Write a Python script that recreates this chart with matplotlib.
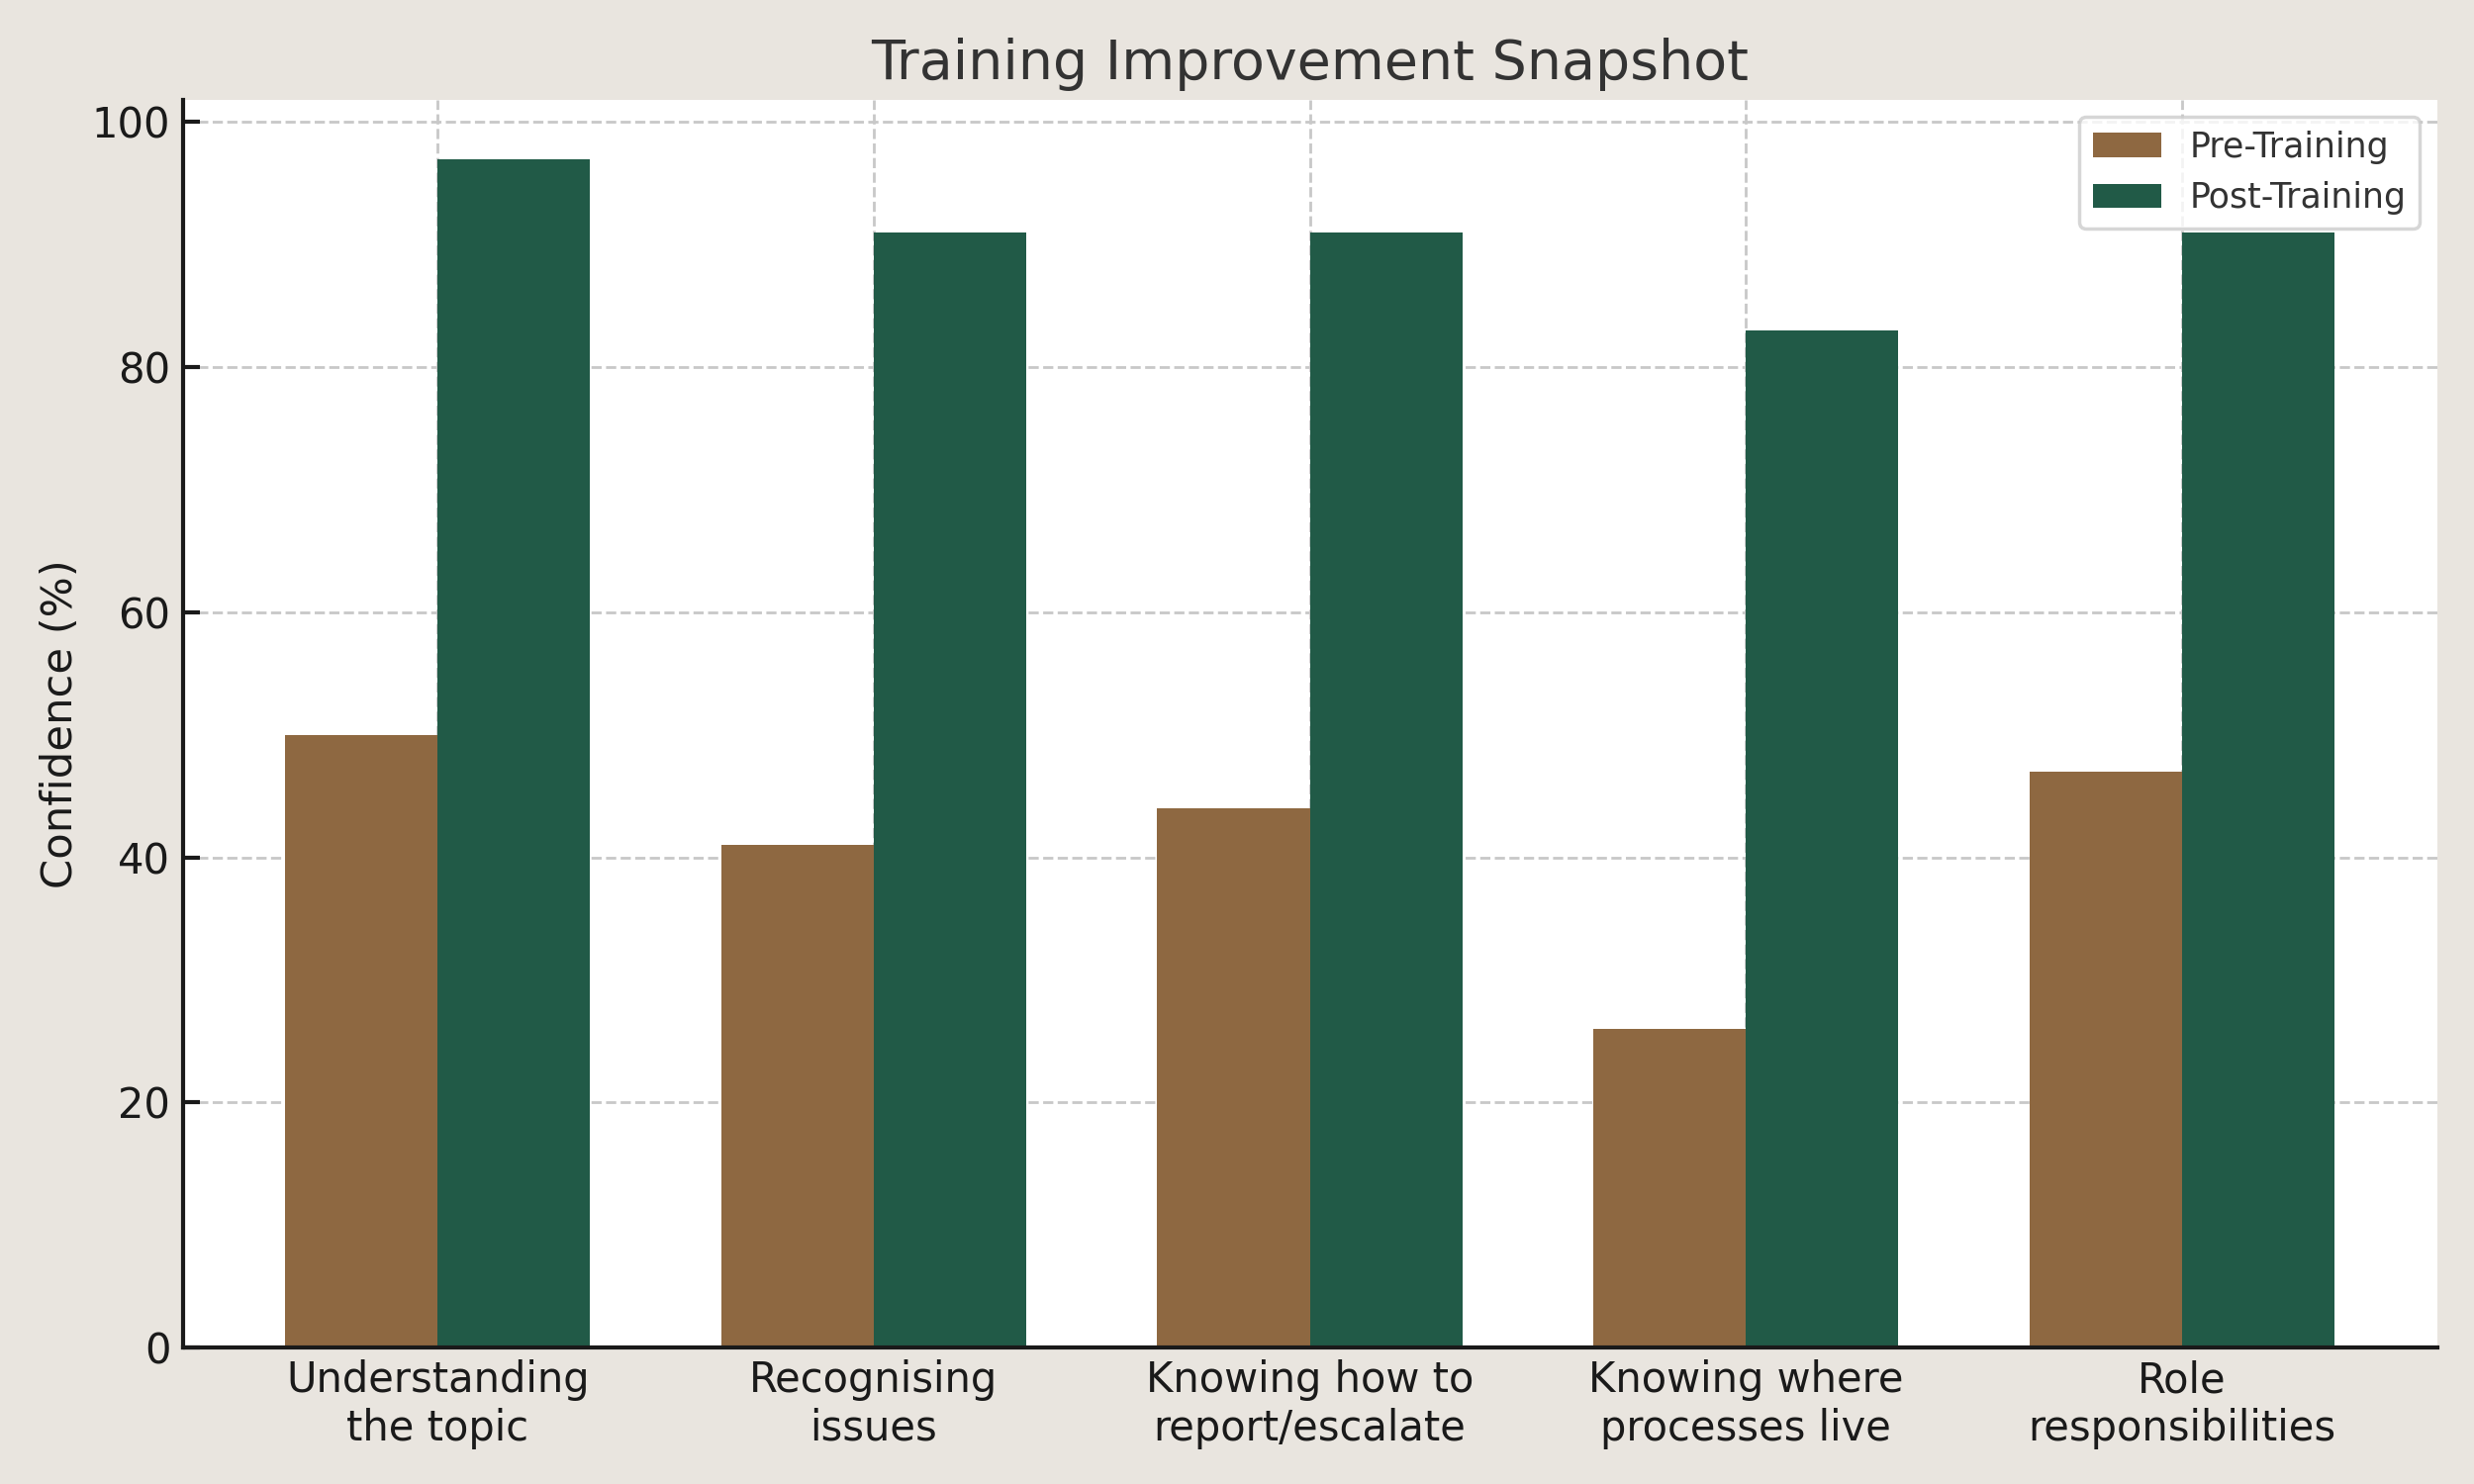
import matplotlib
matplotlib.use("Agg")
import matplotlib.pyplot as plt
import numpy as np

categories = ["Understanding\nthe topic", "Recognising\nissues", "Knowing how to\nreport/escalate",
              "Knowing where\nprocesses live", "Role\nresponsibilities"]
pre_training = [50, 41, 44, 26, 47]
post_training = [97, 91, 91, 83, 91]

pre_color = "#8E6841"
post_color = "#215A47"
bg_color = "#E9E5DF"

plt.rcParams['font.family'] = ['DejaVu Sans']

fig, ax = plt.subplots(figsize=(10, 6), dpi=250)
fig.patch.set_facecolor(bg_color)
ax.set_facecolor("white")

x = np.arange(len(categories))
w = 0.35
ax.bar(x - w/2, pre_training, w, color=pre_color, label="Pre-Training")
ax.bar(x + w/2, post_training, w, color=post_color, label="Post-Training")

ax.set_xticks(x)
ax.set_xticklabels(categories, fontsize=12, color="#1a1a1a")
ax.tick_params(axis='y', labelsize=12, labelcolor="#1a1a1a")
ax.tick_params(direction='in', length=5, width=1.2, color="#1a1a1a")
ax.set_ylabel("Confidence (%)", fontsize=12.5, color="#1a1a1a", labelpad=3)
ax.set_title("Training Improvement Snapshot", fontsize=16, color="#333333", pad=6)

ax.set_axisbelow(True)
ax.grid(True, linestyle='--', color="#c8c8c8", linewidth=0.8)
for s in ["top", "right"]:
    ax.spines[s].set_visible(False)
for s in ["left", "bottom"]:
    ax.spines[s].set_color("#1a1a1a")
    ax.spines[s].set_linewidth(1.2)

leg = ax.legend(loc="upper right", fontsize=10, frameon=True, fancybox=True)
leg.get_frame().set_edgecolor("#cccccc")
for t in leg.get_texts():
    t.set_color("#333333")

fig.subplots_adjust(left=0.0738, right=0.985, top=0.933, bottom=0.092)
fig.savefig("out.png", dpi=250, facecolor=bg_color)
